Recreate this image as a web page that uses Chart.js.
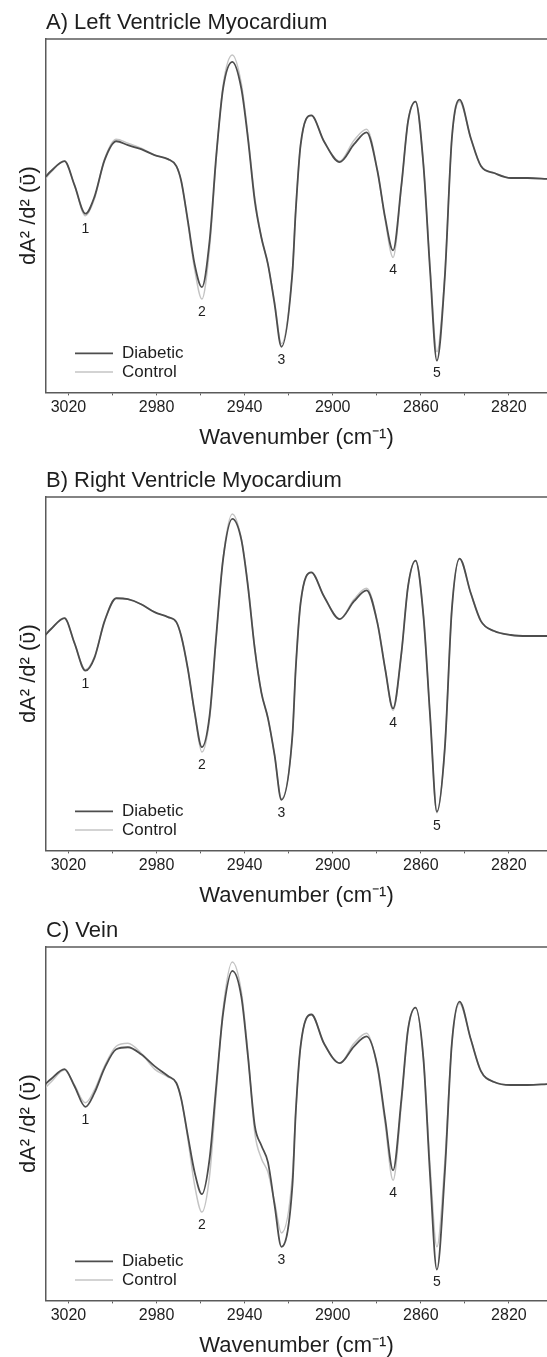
<!DOCTYPE html>
<html>
<head>
<meta charset="utf-8">
<title>Second derivative spectra - Diabetic vs Control</title>
<script src="https://cdn.jsdelivr.net/npm/chart.js@4.4.1/dist/chart.umd.min.js"></script>
<style>
  html, body { margin: 0; padding: 0; background: #fff; }
  body { width: 547px; height: 1357px; position: relative; overflow: hidden; }
  canvas { position: absolute; left: 0; }
</style>
</head>
<body>
<canvas id="chartA" width="547" height="455" style="top:0px"></canvas>
<canvas id="chartB" width="547" height="455" style="top:458px"></canvas>
<canvas id="chartC" width="547" height="455" style="top:908px"></canvas>
<script>
var wavenumber = [3030.9, 3027.9, 3021.8, 3017.3, 3012.3, 3008.2, 3003.6, 2998.3, 2993.0, 2987.0,
    2980.9, 2974.8, 2971.0, 2968.8, 2965.8, 2962.7, 2959.4, 2955.9, 2952.9, 2949.8,
    2945.6, 2941.5, 2938.5, 2935.4, 2932.4, 2929.4, 2926.4, 2923.3, 2918.3, 2916.8,
    2914.6, 2909.7, 2904.0, 2896.8, 2890.3, 2884.6, 2879.7, 2876.2, 2872.6, 2868.8,
    2865.8, 2862.4, 2858.8, 2855.8, 2852.7, 2849.1, 2845.9, 2842.4, 2837.3, 2832.7,
    2826.7, 2819.1, 2811.5, 2802.3];

// second derivative, arbitrary units (flat tail = 0)
var lvDiabetic = [0, 7, 17, -7, -36, -19, 18, 37, 33, 29, 23, 19, 12, -3, -43, -87, -110, -63, 22, 90,
    117, 90, 40, -23, -60, -87, -127, -170, -95, -33, 33, 63, 37, 16, 34, 46, 7, -40, -73, -7,
    57, 77, 13, -93, -184, -100, 40, 79, 40, 12, 5, 0, 0, -1];
var lvControl = [-2, 6, 17, -7, -38, -21, 19, 39, 35, 30, 23, 19, 12, -3, -45, -92, -122, -70, 20, 93,
    124, 95, 43, -20, -60, -87, -125, -167, -93, -33, 33, 63, 37, 17, 38, 49, 8, -42, -80, -8,
    57, 77, 13, -90, -175, -97, 40, 77, 40, 12, 5, 0, 0, -1];

var rvDiabetic = [0, 7, 18, -7, -35, -22, 15, 38, 37, 32, 24, 19, 14, 0, -33, -77, -112, -80, 0, 77,
    118, 97, 50, -13, -57, -83, -120, -165, -100, -33, 33, 64, 40, 17, 35, 46, 13, -33, -73, -17,
    50, 76, 20, -80, -177, -113, 27, 78, 43, 15, 5, 1, 0, 0];
var rvControl = [0, 7, 18, -7, -34, -21, 15, 38, 37, 32, 24, 19, 14, 0, -33, -78, -117, -83, -2, 78,
    123, 98, 52, -12, -57, -83, -120, -164, -100, -33, 33, 64, 40, 17, 37, 48, 14, -33, -75, -17,
    50, 76, 20, -80, -178, -113, 27, 78, 43, 15, 5, 1, 0, 0];

var veinDiabetic = [1, 7, 17, 0, -21, -7, 18, 37, 39, 32, 20, 10, 3, -13, -50, -87, -109, -73, 0, 73,
    116, 90, 30, -40, -60, -77, -120, -162, -100, -27, 40, 72, 43, 23, 40, 50, 20, -33, -85, -13,
    57, 79, 27, -90, -185, -87, 43, 85, 47, 15, 4, 1, 1, 2];
var veinControl = [-3, 4, 16, 1, -17, -4, 20, 40, 43, 33, 17, 9, 3, -13, -53, -100, -127, -90, -7, 77,
    125, 95, 33, -47, -73, -87, -117, -148, -90, -27, 40, 72, 43, 23, 43, 53, 18, -38, -95, -17,
    57, 79, 27, -80, -162, -77, 43, 83, 47, 15, 4, 1, 1, 2];

// numbered bands
var peakNames = ['1', '2', '3', '4', '5'];
var peakWavenumbers = [3012.3, 2959.4, 2923.3, 2872.6, 2852.7];

// axis
var tickValues = [2820, 2840, 2860, 2880, 2900, 2920, 2940, 2960, 2980, 3000, 3020];
var labeledTicks = [2820, 2860, 2900, 2940, 2980, 3020];
var xMin = 2802.7, xMax = 3030.2;
var yMin = -216, yMax = 140;

var FONT = '"Liberation Sans", Arial, Helvetica, sans-serif';
var INK = '#1e1e1e';
var FRAME = '#5a5a5a';

Chart.defaults.font.family = FONT;
Chart.defaults.color = INK;

function toPoints(values) {
    return values.map(function (v, i) { return { x: wavenumber[i], y: v }; });
}

// top edge of the box
var frameTop = {
    id: 'frameTop',
    afterDraw: function (chart) {
        var a = chart.chartArea, ctx = chart.ctx;
        ctx.save();
        ctx.strokeStyle = FRAME;
        ctx.lineWidth = 1.5;
        ctx.beginPath();
        ctx.moveTo(a.left, a.top);
        ctx.lineTo(a.right, a.top);
        ctx.stroke();
        ctx.restore();
    }
};

// band numbers under the minima
var peakNumbers = {
    id: 'peakNumbers',
    afterDatasetsDraw: function (chart) {
        var ctx = chart.ctx, xs = chart.scales.x, ys = chart.scales.y;
        ctx.save();
        ctx.font = '14px ' + FONT;
        ctx.fillStyle = INK;
        ctx.textAlign = 'center';
        ctx.textBaseline = 'middle';
        peakWavenumbers.forEach(function (w, k) {
            var i = wavenumber.indexOf(w);
            var low = Math.min.apply(null, chart.data.datasets.map(function (d) { return d.data[i].y; }));
            ctx.fillText(peakNames[k], xs.getPixelForValue(w), ys.getPixelForValue(low) + 13);
        });
        ctx.restore();
    }
};

// legend sits inside the plot, lower left
var insideLegend = {
    id: 'insideLegend',
    afterDatasetsDraw: function (chart) {
        var a = chart.chartArea, ctx = chart.ctx;
        ctx.save();
        ctx.font = '17px ' + FONT;
        ctx.textBaseline = 'middle';
        chart.data.datasets.forEach(function (ds, k) {
            var y = a.bottom - 39 + k * 18.5;
            ctx.strokeStyle = ds.borderColor;
            ctx.lineWidth = ds.borderWidth;
            ctx.beginPath();
            ctx.moveTo(a.left + 29, y);
            ctx.lineTo(a.left + 67, y);
            ctx.stroke();
            ctx.fillStyle = INK;
            ctx.fillText(ds.label, a.left + 76, y);
        });
        ctx.restore();
    }
};

function makeChart(canvasId, title, diabetic, control) {
    var ctx = document.getElementById(canvasId);
    return new Chart(ctx, {
        type: 'line',
        data: {
            datasets: [
                {
                    label: 'Diabetic',
                    data: toPoints(diabetic),
                    borderColor: '#4d4d4d',
                    borderWidth: 1.8,
                    pointRadius: 0,
                    fill: false,
                    cubicInterpolationMode: 'monotone'
                },
                {
                    label: 'Control',
                    data: toPoints(control),
                    borderColor: '#c4c4c4',
                    borderWidth: 1.5,
                    pointRadius: 0,
                    fill: false,
                    cubicInterpolationMode: 'monotone'
                }
            ]
        },
        options: {
            responsive: false,
            animation: false,
            devicePixelRatio: 1,
            layout: { padding: { left: 11.6, right: 0, top: 0, bottom: 0 } },
            plugins: {
                legend: { display: false },
                tooltip: { enabled: false },
                title: {
                    display: true,
                    text: title,
                    align: 'start',
                    fullSize: false,
                    color: INK,
                    font: { size: 22, weight: 'normal' },
                    padding: { top: 10.2, bottom: 2.4 }
                }
            },
            scales: {
                x: {
                    type: 'linear',
                    reverse: true,
                    min: xMin,
                    max: xMax,
                    afterBuildTicks: function (scale) {
                        scale.ticks = tickValues.map(function (v) { return { value: v }; });
                    },
                    ticks: {
                        autoSkip: false,
                        maxRotation: 0,
                        padding: 3,
                        color: INK,
                        font: { size: 16 },
                        callback: function (v) {
                            return labeledTicks.indexOf(v) >= 0 ? String(v) : '';
                        }
                    },
                    grid: { display: true, drawOnChartArea: false, drawTicks: true, tickLength: 3, color: FRAME, lineWidth: 1 },
                    border: { display: true, color: FRAME, width: 1.5 },
                    title: {
                        display: true,
                        text: 'Wavenumber (cm\u207B\u00B9)',
                        color: INK,
                        font: { size: 22 },
                        padding: { top: 4, bottom: 4 }
                    }
                },
                y: {
                    min: yMin,
                    max: yMax,
                    ticks: { display: false },
                    grid: { display: false, drawTicks: false },
                    border: { display: true, color: FRAME, width: 1.5 },
                    title: {
                        display: true,
                        text: 'dA\u00B2 /d\u00B2 (\u1FE1)',
                        color: INK,
                        font: { size: 22 },
                        padding: { top: 4, bottom: 4 }
                    }
                }
            }
        },
        plugins: [frameTop, peakNumbers, insideLegend]
    });
}

makeChart('chartA', 'A) Left Ventricle Myocardium', lvDiabetic, lvControl);
makeChart('chartB', 'B) Right Ventricle Myocardium', rvDiabetic, rvControl);
makeChart('chartC', 'C) Vein', veinDiabetic, veinControl);
</script>
</body>
</html>
